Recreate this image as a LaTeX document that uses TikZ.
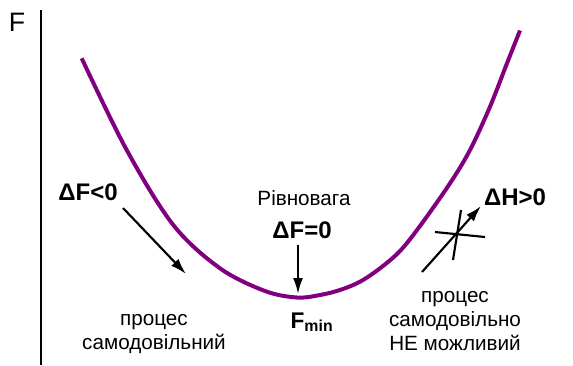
\documentclass[tikz,border=0pt]{standalone}
\usepackage{fontspec}
\setmainfont{Liberation Sans}
\usetikzlibrary{arrows.meta}
\definecolor{curvepurple}{RGB}{128,0,128}
\begin{document}
\begin{tikzpicture}[x=0.75pt,y=-0.75pt,
  lbl/.style={inner sep=0pt,align=center,font=\fontsize{15.5pt}{18pt}\selectfont},
  blbl/.style={inner sep=0pt,font=\fontsize{18pt}{20pt}\selectfont\bfseries},
  arr/.style={line width=1.6pt,-{Latex[length=12pt,width=7.5pt]}},
  crossline/.style={line width=1.6pt}]
\useasboundingbox (0,0) rectangle (573,365);
% axis
\coordinate (axtop) at (41,10);
\coordinate (axbot) at (41,365);
\draw[line width=1.6pt] (axtop) -- (axbot);
\node[inner sep=0pt,font=\fontsize{20pt}{22pt}\selectfont] (F) at (17,22) {F};
% curve
\draw[curvepurple,line width=3pt] plot[smooth,tension=0.55] coordinates {
 (81.7,58.3) (126.7,150) (173.3,225) (220,268.3) (265,291) (297,297.5)
 (320,295) (340,290) (360,281.7) (380,268.3) (400,251) (420,226) (450,183.3)
 (470,150) (490,106.7) (506.7,64) (520,30.5)};
% left
\node[blbl] (dfl) at (88,192) {ΔF<0};
\coordinate (a1s) at (123,208);
\coordinate (a1e) at (186,274);
\draw[arr] (a1s) -- (a1e);
\node[lbl] (spont) at (154,334) {процес\\самодовільний};
% middle
\node[lbl] (eq) at (304,198) {Рівновага};
\node[blbl] (df0) at (302,230) {ΔF=0};
\coordinate (a2s) at (298,245);
\coordinate (a2e) at (298,294);
\draw[arr] (a2s) -- (a2e);
\node[inner sep=0pt,font=\fontsize{17pt}{19pt}\selectfont\bfseries] (fmin) at (312,322) {F\textsubscript{min}};
% right
\node[blbl] (dh) at (515,197) {ΔH>0};
\coordinate (a3s) at (422,272);
\coordinate (a3e) at (481,206);
\draw[arr] (a3s) -- (a3e);
\coordinate (c1s) at (435,232);
\coordinate (c1e) at (485,237);
\coordinate (c2s) at (461,210);
\coordinate (c2e) at (453,260);
\draw[crossline] (c1s) -- (c1e);
\draw[crossline] (c2s) -- (c2e);
\node[lbl] (nonspont) at (455,321) {процес\\самодовільно\\НЕ можливий};
\end{tikzpicture}
\end{document}
